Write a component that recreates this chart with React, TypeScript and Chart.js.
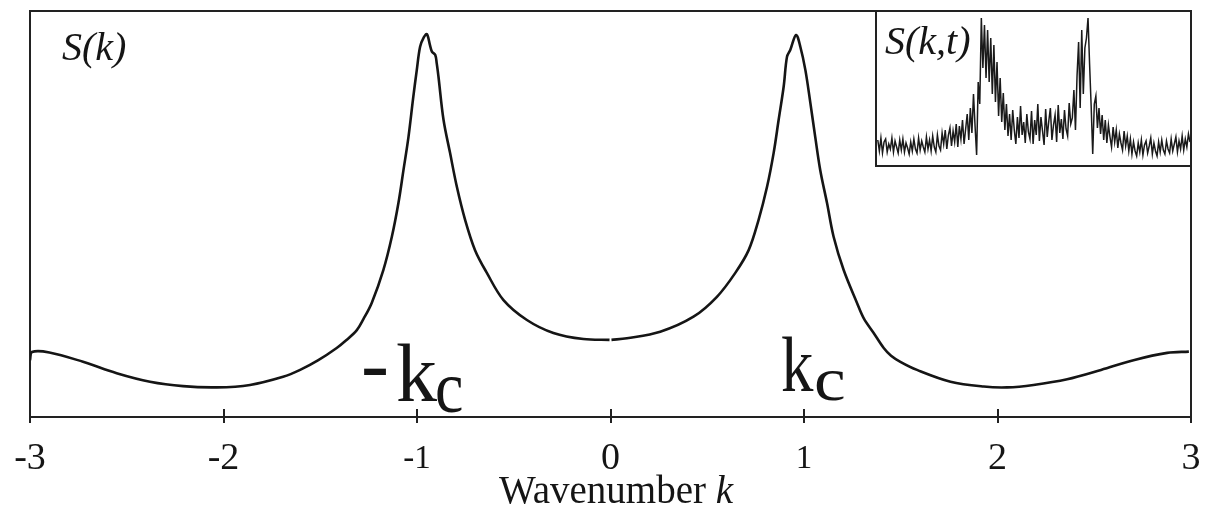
import React, { useEffect, useRef } from "react";
import { Chart, registerables } from "chart.js";

Chart.register(...registerables);

const SERIF = '"Liberation Serif", "Times New Roman", serif';
const INK = "#151515";
const FRAME = "#222222";

// Static structure factor S(k) against wavenumber k (null marks the break at k = 0)
const wavenumbers = [
  -3.0, -2.99, -2.9, -2.726, -2.552, -2.38, -2.209, -2.035, -1.863, -1.692, -1.604, -1.51,
  -1.415, -1.366, -1.311, -1.277, -1.234, -1.174, -1.13, -1.096, -1.07, -1.044, -1.019, -1.001, -0.984,
  -0.965, -0.949, -0.933, -0.923, -0.906, -0.898, -0.889, -0.863, -0.829, -0.794, -0.751,
  -0.7, -0.639, -0.553, -0.432, -0.295, -0.14, -0.005, 0.0, 0.005, 0.085, 0.257, 0.429,
  0.55, 0.645, 0.714, 0.765, 0.809, 0.843, 0.869, 0.895, 0.912, 0.929, 0.959, 0.981,
  1.007, 1.033, 1.058, 1.084, 1.119, 1.153, 1.205, 1.274, 1.309, 1.36, 1.412, 1.45, 1.498, 1.584, 1.757,
  1.929, 2.05, 2.186, 2.36, 2.535, 2.703, 2.877, 2.989,
];
const structureFactor = [
  0.14, 0.16, 0.159, 0.136, 0.108, 0.087, 0.076, 0.073, 0.079, 0.099, 0.116, 0.14,
  0.17, 0.189, 0.214, 0.241, 0.281, 0.362, 0.444, 0.527, 0.608, 0.69, 0.789, 0.855, 0.912,
  0.935, 0.943, 0.916, 0.9, 0.892, 0.871, 0.838, 0.732, 0.65, 0.567, 0.485,
  0.411, 0.355, 0.288, 0.239, 0.207, 0.192, 0.19, null, 0.19, 0.194, 0.21, 0.247,
  0.296, 0.355, 0.411, 0.485, 0.567, 0.65, 0.732, 0.814, 0.887, 0.904, 0.941, 0.912,
  0.855, 0.773, 0.69, 0.608, 0.527, 0.444, 0.362, 0.281, 0.243, 0.207, 0.17, 0.151, 0.136, 0.116, 0.087,
  0.075, 0.073, 0.079, 0.093, 0.116, 0.14, 0.158, 0.161,
];

const kTickValues = [-3, -2, -1, 0, 1, 2, 3];
const kTickLabels = ["-3", "-2", "-1", "0", "1", "2", "3"];

// Time-resolved S(k,t) snapshot, one sample per k bin
const insetSignal = [
  26, 15, 28, 13, 24, 27, 14, 22, 17, 28, 14, 25, 19, 13, 26, 16, 27, 14, 23, 18,
  12, 24, 15, 27, 17, 13, 28, 16, 25, 19, 14, 29, 17, 26, 15, 30, 19, 14, 31, 20,
  16, 33, 22, 36, 17, 31, 38, 20, 35, 24, 42, 19, 40, 27, 46, 22, 37, 52,
  26, 58, 33, 72, 40, 11, 84, 62, 148, 98, 141, 88, 136, 84, 128, 72, 121, 64, 104, 50, 88, 44, 73, 36, 62,
  30, 52, 26, 56, 36, 22, 49, 28, 60, 31, 44, 23, 52, 34, 27, 55, 22, 46, 31, 62,
  25, 49, 35, 21, 57, 29, 45, 58, 26, 41, 51, 24, 61, 33, 47, 27, 56, 37, 30, 63, 42,
  48, 76, 36, 90, 124, 58, 136, 72, 118, 128, 148, 102, 60, 12, 62, 70, 38, 58, 32, 51,
  26, 46, 23, 41, 29, 19, 39, 24, 36, 18, 32, 23, 16, 35, 20, 30,
  15, 27, 12, 24, 15, 10, 23, 14, 26, 11, 21, 25, 13, 20, 28, 12, 23, 15, 10, 24,
  14, 26, 16, 12, 25, 17, 13, 27, 15, 22, 29, 14, 25, 17, 30, 16, 27, 19, 32, 24,
];

// Tick label point sizes along the k axis
const tickFontSize = (label: string) => (label === "-1" || label === "1" ? 33 : 38);

function drawScaledText(
  ctx: CanvasRenderingContext2D,
  text: string,
  x: number,
  y: number,
  font: string,
  sx = 1,
  sy = 1
) {
  ctx.save();
  ctx.translate(x, y);
  ctx.scale(sx, sy);
  ctx.font = font;
  ctx.fillText(text, 0, 0);
  ctx.restore();
}

const mainDecor = {
  id: "mainDecor",
  afterDraw(chart: any) {
    const { ctx, chartArea } = chart;
    const xs = chart.scales.x;
    ctx.save();
    // tick marks reaching into the plot area
    ctx.strokeStyle = FRAME;
    ctx.lineWidth = 2;
    xs.ticks.forEach((t: any) => {
      const px = Math.round(xs.getPixelForValue(t.value));
      ctx.beginPath();
      ctx.moveTo(px, chartArea.bottom);
      ctx.lineTo(px, chartArea.bottom - 8);
      ctx.stroke();
    });

    ctx.fillStyle = INK;
    ctx.textBaseline = "alphabetic";
    ctx.textAlign = "left";

    // panel label
    drawScaledText(ctx, "S(k)", 62, 60, `italic 40px ${SERIF}`);

    // -k_c marker
    drawScaledText(ctx, "-", 361, 392, `84px ${SERIF}`);
    drawScaledText(ctx, "k", 396, 401, `82px ${SERIF}`);
    drawScaledText(ctx, "c", 435, 412, `64px ${SERIF}`, 1, 1.14);

    // k_c marker
    drawScaledText(ctx, "k", 781, 391, `79px ${SERIF}`, 0.82, 1);
    drawScaledText(ctx, "c", 814, 400, `66px ${SERIF}`, 1.08, 0.93);

    // axis title with italic symbol
    const word = "Wavenumber ";
    const sym = "k";
    ctx.font = `39px ${SERIF}`;
    const w1 = ctx.measureText(word).width;
    ctx.font = `italic 39px ${SERIF}`;
    const w2 = ctx.measureText(sym).width;
    const x0 = 616 - (w1 + w2) / 2;
    ctx.font = `39px ${SERIF}`;
    ctx.fillText(word, x0, 503);
    ctx.font = `italic 39px ${SERIF}`;
    ctx.fillText(sym, x0 + w1, 503);
    ctx.restore();
  },
};

const insetDecor = {
  id: "insetDecor",
  afterDraw(chart: any) {
    const { ctx } = chart;
    ctx.save();
    ctx.fillStyle = INK;
    ctx.textBaseline = "alphabetic";
    drawScaledText(ctx, "S(k,t)", 8, 42, `italic 40px ${SERIF}`);
    ctx.restore();
  },
};

export default function App() {
  const mainRef = useRef<HTMLCanvasElement>(null);
  const insetRef = useRef<HTMLCanvasElement>(null);

  useEffect(() => {
    const frameBorder = { display: true, color: FRAME, width: 2 };
    const main = new Chart(mainRef.current as HTMLCanvasElement, {
      type: "line",
      data: {
        datasets: [
          {
            data: wavenumbers.map((k, i) => ({ x: k, y: structureFactor[i] as any })),
            borderColor: INK,
            borderWidth: 2.6,
            pointRadius: 0,
            fill: false,
            spanGaps: false,
            tension: 0.35,
          },
        ],
      },
      options: {
        animation: false,
        responsive: false,
        devicePixelRatio: 1,
        layout: { padding: { left: 30, top: 11, right: 19, bottom: 0 } },
        plugins: { legend: { display: false }, tooltip: { enabled: false } },
        scales: {
          x: {
            type: "linear",
            position: "bottom",
            min: -3,
            max: 3,
            afterBuildTicks: (s: any) => {
              s.ticks = kTickValues.map((v) => ({ value: v }));
            },
            afterFit: (s: any) => {
              s.height = 91;
              s.paddingLeft = 0;
              s.paddingRight = 0;
            },
            grid: {
              display: true,
              drawOnChartArea: false,
              drawTicks: true,
              tickLength: 6,
              color: FRAME,
              lineWidth: 2,
            },
            border: frameBorder,
            ticks: {
              autoSkip: false,
              maxRotation: 0,
              padding: 21,
              color: INK,
              callback: (_v: any, i: number) => kTickLabels[i],
              font: (c: any) => {
                const idx = kTickValues.indexOf(c.tick ? c.tick.value : 0);
                const size = tickFontSize(kTickLabels[idx] ?? "0");
                return { family: SERIF, size, lineHeight: 30 / size };
              },
            },
          },
          x2: {
            type: "linear",
            position: "top",
            min: -3,
            max: 3,
            grid: { display: false },
            ticks: { display: false },
            border: frameBorder,
            afterFit: (s: any) => {
              s.height = 0;
              s.paddingLeft = 0;
              s.paddingRight = 0;
            },
          },
          y: {
            type: "linear",
            position: "left",
            min: 0,
            max: 1,
            grid: { display: false },
            ticks: { display: false },
            border: frameBorder,
            afterFit: (s: any) => {
              s.width = 0;
              s.paddingTop = 0;
              s.paddingBottom = 0;
            },
          },
          y2: {
            type: "linear",
            position: "right",
            min: 0,
            max: 1,
            grid: { display: false },
            ticks: { display: false },
            border: frameBorder,
            afterFit: (s: any) => {
              s.width = 0;
              s.paddingTop = 0;
              s.paddingBottom = 0;
            },
          },
        },
      } as any,
      plugins: [mainDecor],
    });

    const inset = new Chart(insetRef.current as HTMLCanvasElement, {
      type: "line",
      data: {
        datasets: [
          {
            data: insetSignal.map((v, i) => ({ x: i, y: v })),
            borderColor: "#1a1a1a",
            borderWidth: 1.5,
            pointRadius: 0,
            fill: false,
            tension: 0,
          },
        ],
      },
      options: {
        animation: false,
        responsive: false,
        devicePixelRatio: 1,
        layout: { padding: 0 },
        plugins: { legend: { display: false }, tooltip: { enabled: false } },
        scales: {
          x: { type: "linear", display: false, min: -0.5, max: 199 },
          y: { type: "linear", display: false, min: 1, max: 154 },
        },
      } as any,
      plugins: [insetDecor],
    });

    return () => {
      main.destroy();
      inset.destroy();
    };
  }, []);

  return (
    <div style={{ position: "absolute", left: 0, top: 0, width: 1210, height: 508, background: "#fff", overflow: "hidden" }}>
      <canvas ref={mainRef} width={1210} height={508} style={{ position: "absolute", left: 0, top: 0 }} />
      <div
        style={{
          position: "absolute",
          left: 875,
          top: 10,
          width: 317,
          height: 157,
          border: `2px solid ${FRAME}`,
          boxSizing: "border-box",
          background: "#fff",
        }}
      >
        <canvas ref={insetRef} width={313} height={153} style={{ display: "block" }} />
      </div>
    </div>
  );
}
